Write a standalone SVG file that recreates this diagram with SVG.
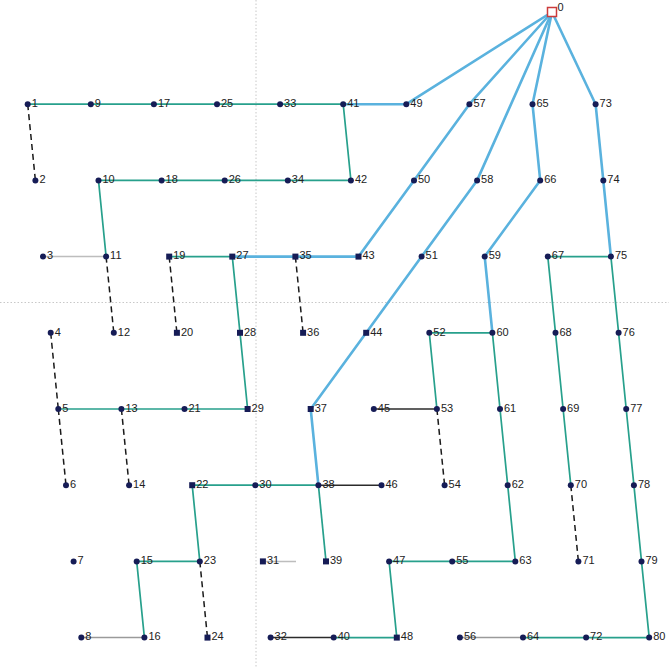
<svg xmlns="http://www.w3.org/2000/svg" width="669" height="668" viewBox="0 0 669 668">
<style>
.bg{fill:#ffffff}
.guide{stroke:#c8c8c8;stroke-width:1;stroke-dasharray:1.5,2;fill:none}
.b{stroke:#5ab2de;stroke-width:2.6;fill:none;stroke-linejoin:round}
.g{stroke:#27a08c;stroke-width:1.7;fill:none;stroke-linejoin:round}
.k{stroke:#2b2b2b;stroke-width:1.5;fill:none}
.gr{stroke:#9a9a9a;stroke-width:1.5;fill:none}
.lg{stroke:#bdbdbd;stroke-width:1.5;fill:none}
.d{stroke:#1a1a1a;stroke-width:1.5;stroke-dasharray:6,4;fill:none}
.nd{fill:#161c56}
.root{fill:#ffffff;stroke:#cc3b3b;stroke-width:1.5}
text{font-family:"Liberation Sans",Arial,sans-serif;font-size:11px;fill:#222222}
</style>
<rect class="bg" x="0" y="0" width="669" height="668"/>
<g id="guides">
<line class="guide" x1="256" y1="0" x2="256" y2="668"/>
<line class="guide" x1="0" y1="302.5" x2="669" y2="302.5"/>
</g>
<g id="connectors">
<polyline class="g" points="343.2,104.2 27.7,104.2"/>
<polyline class="g" points="343.2,104.2 350.9,180.4 98.5,180.4 106.1,256.6"/>
<polyline class="g" points="169.2,256.6 232.3,256.6"/>
<polyline class="g" points="232.3,256.6 240,332.8 247.6,409 58.3,409"/>
<polyline class="g" points="318.4,485.2 192.2,485.2 199.8,561.4 136.7,561.4 144.4,637.6"/>
<polyline class="g" points="318.4,485.2 326,561.4"/>
<polyline class="g" points="492.4,332.8 429.3,332.8 436.9,409"/>
<polyline class="g" points="492.4,332.8 500,409 507.7,485.2 515.3,561.4 389.1,561.4 396.8,637.6 333.7,637.6"/>
<polyline class="g" points="610.9,256.6 547.8,256.6 555.5,332.8 563.1,409 570.8,485.2"/>
<polyline class="g" points="610.9,256.6 618.6,332.8 626.2,409 633.9,485.2 641.5,561.4 649.2,637.6 523,637.6"/>
<line class="k" x1="318.4" y1="485.2" x2="381.5" y2="485.2"/>
<line class="k" x1="373.8" y1="409" x2="436.9" y2="409"/>
<line class="k" x1="270.6" y1="637.6" x2="333.7" y2="637.6"/>
<line class="lg" x1="106.1" y1="256.6" x2="43" y2="256.6"/>
<line class="gr" x1="144.4" y1="637.6" x2="81.3" y2="637.6"/>
<line class="gr" x1="523" y1="637.6" x2="459.9" y2="637.6"/>
<line class="lg" x1="262.9" y1="561.4" x2="296" y2="561.4"/>
<line class="d" x1="27.7" y1="104.2" x2="35.4" y2="180.4"/>
<line class="d" x1="106.1" y1="256.6" x2="113.8" y2="332.8"/>
<line class="d" x1="169.2" y1="256.6" x2="176.9" y2="332.8"/>
<line class="d" x1="50.7" y1="332.8" x2="58.3" y2="409"/>
<line class="d" x1="58.3" y1="409" x2="66" y2="485.2"/>
<line class="d" x1="121.4" y1="409" x2="129.1" y2="485.2"/>
<line class="d" x1="295.4" y1="256.6" x2="303.1" y2="332.8"/>
<line class="d" x1="199.8" y1="561.4" x2="207.5" y2="637.6"/>
<line class="d" x1="436.9" y1="409" x2="444.6" y2="485.2"/>
<line class="d" x1="570.8" y1="485.2" x2="578.4" y2="561.4"/>
<polyline class="b" points="552,12 406.3,104.2 343.2,104.2"/>
<polyline class="b" points="552,12 469.4,104.2 414,180.4 358.5,256.6 295.4,256.6 232.3,256.6"/>
<polyline class="b" points="552,12 477.1,180.4 421.6,256.6 366.2,332.8 310.7,409 318.4,485.2"/>
<polyline class="b" points="552,12 532.5,104.2 540.2,180.4 484.7,256.6 492.4,332.8"/>
<polyline class="b" points="552,12 595.6,104.2 603.3,180.4 610.9,256.6"/>
</g>
<g id="nodes">
<g id="n0"><rect class="root" x="547.5" y="7.5" width="9" height="9"/><text x="557.5" y="11">0</text></g>
<g id="n1"><circle class="nd" cx="27.7" cy="104.2" r="3"/><text x="31.7" y="107">1</text></g>
<g id="n9"><circle class="nd" cx="90.8" cy="104.2" r="3"/><text x="94.8" y="107">9</text></g>
<g id="n17"><circle class="nd" cx="153.9" cy="104.2" r="3"/><text x="157.9" y="107">17</text></g>
<g id="n25"><circle class="nd" cx="217" cy="104.2" r="3"/><text x="221" y="107">25</text></g>
<g id="n33"><circle class="nd" cx="280.1" cy="104.2" r="3"/><text x="284.1" y="107">33</text></g>
<g id="n41"><circle class="nd" cx="343.2" cy="104.2" r="3"/><text x="347.2" y="107">41</text></g>
<g id="n49"><circle class="nd" cx="406.3" cy="104.2" r="3"/><text x="410.3" y="107">49</text></g>
<g id="n57"><circle class="nd" cx="469.4" cy="104.2" r="3"/><text x="473.4" y="107">57</text></g>
<g id="n65"><circle class="nd" cx="532.5" cy="104.2" r="3"/><text x="536.5" y="107">65</text></g>
<g id="n73"><circle class="nd" cx="595.6" cy="104.2" r="3"/><text x="599.6" y="107">73</text></g>
<g id="n2"><circle class="nd" cx="35.4" cy="180.4" r="3"/><text x="39.4" y="183.2">2</text></g>
<g id="n10"><circle class="nd" cx="98.5" cy="180.4" r="3"/><text x="102.5" y="183.2">10</text></g>
<g id="n18"><circle class="nd" cx="161.6" cy="180.4" r="3"/><text x="165.6" y="183.2">18</text></g>
<g id="n26"><circle class="nd" cx="224.7" cy="180.4" r="3"/><text x="228.7" y="183.2">26</text></g>
<g id="n34"><circle class="nd" cx="287.8" cy="180.4" r="3"/><text x="291.8" y="183.2">34</text></g>
<g id="n42"><circle class="nd" cx="350.9" cy="180.4" r="3"/><text x="354.9" y="183.2">42</text></g>
<g id="n50"><circle class="nd" cx="414" cy="180.4" r="3"/><text x="418" y="183.2">50</text></g>
<g id="n58"><circle class="nd" cx="477.1" cy="180.4" r="3"/><text x="481.1" y="183.2">58</text></g>
<g id="n66"><circle class="nd" cx="540.2" cy="180.4" r="3"/><text x="544.2" y="183.2">66</text></g>
<g id="n74"><circle class="nd" cx="603.3" cy="180.4" r="3"/><text x="607.3" y="183.2">74</text></g>
<g id="n3"><circle class="nd" cx="43" cy="256.6" r="3"/><text x="47" y="259.4">3</text></g>
<g id="n11"><circle class="nd" cx="106.1" cy="256.6" r="3"/><text x="110.1" y="259.4">11</text></g>
<g id="n19"><rect class="nd" x="166.2" y="253.6" width="6" height="6"/><text x="173.2" y="259.4">19</text></g>
<g id="n27"><rect class="nd" x="229.3" y="253.6" width="6" height="6"/><text x="236.3" y="259.4">27</text></g>
<g id="n35"><rect class="nd" x="292.4" y="253.6" width="6" height="6"/><text x="299.4" y="259.4">35</text></g>
<g id="n43"><rect class="nd" x="355.5" y="253.6" width="6" height="6"/><text x="362.5" y="259.4">43</text></g>
<g id="n51"><circle class="nd" cx="421.6" cy="256.6" r="3"/><text x="425.6" y="259.4">51</text></g>
<g id="n59"><circle class="nd" cx="484.7" cy="256.6" r="3"/><text x="488.7" y="259.4">59</text></g>
<g id="n67"><circle class="nd" cx="547.8" cy="256.6" r="3"/><text x="551.8" y="259.4">67</text></g>
<g id="n75"><circle class="nd" cx="610.9" cy="256.6" r="3"/><text x="614.9" y="259.4">75</text></g>
<g id="n4"><circle class="nd" cx="50.7" cy="332.8" r="3"/><text x="54.7" y="335.6">4</text></g>
<g id="n12"><circle class="nd" cx="113.8" cy="332.8" r="3"/><text x="117.8" y="335.6">12</text></g>
<g id="n20"><rect class="nd" x="173.9" y="329.8" width="6" height="6"/><text x="180.9" y="335.6">20</text></g>
<g id="n28"><rect class="nd" x="237" y="329.8" width="6" height="6"/><text x="244" y="335.6">28</text></g>
<g id="n36"><rect class="nd" x="300.1" y="329.8" width="6" height="6"/><text x="307.1" y="335.6">36</text></g>
<g id="n44"><rect class="nd" x="363.2" y="329.8" width="6" height="6"/><text x="370.2" y="335.6">44</text></g>
<g id="n52"><circle class="nd" cx="429.3" cy="332.8" r="3"/><text x="433.3" y="335.6">52</text></g>
<g id="n60"><circle class="nd" cx="492.4" cy="332.8" r="3"/><text x="496.4" y="335.6">60</text></g>
<g id="n68"><circle class="nd" cx="555.5" cy="332.8" r="3"/><text x="559.5" y="335.6">68</text></g>
<g id="n76"><circle class="nd" cx="618.6" cy="332.8" r="3"/><text x="622.6" y="335.6">76</text></g>
<g id="n5"><circle class="nd" cx="58.3" cy="409" r="3"/><text x="62.3" y="411.8">5</text></g>
<g id="n13"><circle class="nd" cx="121.4" cy="409" r="3"/><text x="125.4" y="411.8">13</text></g>
<g id="n21"><circle class="nd" cx="184.5" cy="409" r="3"/><text x="188.5" y="411.8">21</text></g>
<g id="n29"><rect class="nd" x="244.6" y="406" width="6" height="6"/><text x="251.6" y="411.8">29</text></g>
<g id="n37"><rect class="nd" x="307.7" y="406" width="6" height="6"/><text x="314.7" y="411.8">37</text></g>
<g id="n45"><circle class="nd" cx="373.8" cy="409" r="3"/><text x="377.8" y="411.8">45</text></g>
<g id="n53"><circle class="nd" cx="436.9" cy="409" r="3"/><text x="440.9" y="411.8">53</text></g>
<g id="n61"><circle class="nd" cx="500" cy="409" r="3"/><text x="504" y="411.8">61</text></g>
<g id="n69"><circle class="nd" cx="563.1" cy="409" r="3"/><text x="567.1" y="411.8">69</text></g>
<g id="n77"><circle class="nd" cx="626.2" cy="409" r="3"/><text x="630.2" y="411.8">77</text></g>
<g id="n6"><circle class="nd" cx="66" cy="485.2" r="3"/><text x="70" y="488">6</text></g>
<g id="n14"><circle class="nd" cx="129.1" cy="485.2" r="3"/><text x="133.1" y="488">14</text></g>
<g id="n22"><rect class="nd" x="189.2" y="482.2" width="6" height="6"/><text x="196.2" y="488">22</text></g>
<g id="n30"><circle class="nd" cx="255.3" cy="485.2" r="3"/><text x="259.3" y="488">30</text></g>
<g id="n38"><circle class="nd" cx="318.4" cy="485.2" r="3"/><text x="322.4" y="488">38</text></g>
<g id="n46"><circle class="nd" cx="381.5" cy="485.2" r="3"/><text x="385.5" y="488">46</text></g>
<g id="n54"><circle class="nd" cx="444.6" cy="485.2" r="3"/><text x="448.6" y="488">54</text></g>
<g id="n62"><circle class="nd" cx="507.7" cy="485.2" r="3"/><text x="511.7" y="488">62</text></g>
<g id="n70"><circle class="nd" cx="570.8" cy="485.2" r="3"/><text x="574.8" y="488">70</text></g>
<g id="n78"><circle class="nd" cx="633.9" cy="485.2" r="3"/><text x="637.9" y="488">78</text></g>
<g id="n7"><circle class="nd" cx="73.6" cy="561.4" r="3"/><text x="77.6" y="564.2">7</text></g>
<g id="n15"><circle class="nd" cx="136.7" cy="561.4" r="3"/><text x="140.7" y="564.2">15</text></g>
<g id="n23"><circle class="nd" cx="199.8" cy="561.4" r="3"/><text x="203.8" y="564.2">23</text></g>
<g id="n31"><rect class="nd" x="259.9" y="558.4" width="6" height="6"/><text x="266.9" y="564.2">31</text></g>
<g id="n39"><rect class="nd" x="323" y="558.4" width="6" height="6"/><text x="330" y="564.2">39</text></g>
<g id="n47"><circle class="nd" cx="389.1" cy="561.4" r="3"/><text x="393.1" y="564.2">47</text></g>
<g id="n55"><circle class="nd" cx="452.2" cy="561.4" r="3"/><text x="456.2" y="564.2">55</text></g>
<g id="n63"><circle class="nd" cx="515.3" cy="561.4" r="3"/><text x="519.3" y="564.2">63</text></g>
<g id="n71"><circle class="nd" cx="578.4" cy="561.4" r="3"/><text x="582.4" y="564.2">71</text></g>
<g id="n79"><circle class="nd" cx="641.5" cy="561.4" r="3"/><text x="645.5" y="564.2">79</text></g>
<g id="n8"><circle class="nd" cx="81.3" cy="637.6" r="3"/><text x="85.3" y="640.4">8</text></g>
<g id="n16"><circle class="nd" cx="144.4" cy="637.6" r="3"/><text x="148.4" y="640.4">16</text></g>
<g id="n24"><rect class="nd" x="204.5" y="634.6" width="6" height="6"/><text x="211.5" y="640.4">24</text></g>
<g id="n32"><circle class="nd" cx="270.6" cy="637.6" r="3"/><text x="274.6" y="640.4">32</text></g>
<g id="n40"><circle class="nd" cx="333.7" cy="637.6" r="3"/><text x="337.7" y="640.4">40</text></g>
<g id="n48"><rect class="nd" x="393.8" y="634.6" width="6" height="6"/><text x="400.8" y="640.4">48</text></g>
<g id="n56"><circle class="nd" cx="459.9" cy="637.6" r="3"/><text x="463.9" y="640.4">56</text></g>
<g id="n64"><circle class="nd" cx="523" cy="637.6" r="3"/><text x="527" y="640.4">64</text></g>
<g id="n72"><circle class="nd" cx="586.1" cy="637.6" r="3"/><text x="590.1" y="640.4">72</text></g>
<g id="n80"><circle class="nd" cx="649.2" cy="637.6" r="3"/><text x="653.2" y="640.4">80</text></g>
</g>
</svg>
